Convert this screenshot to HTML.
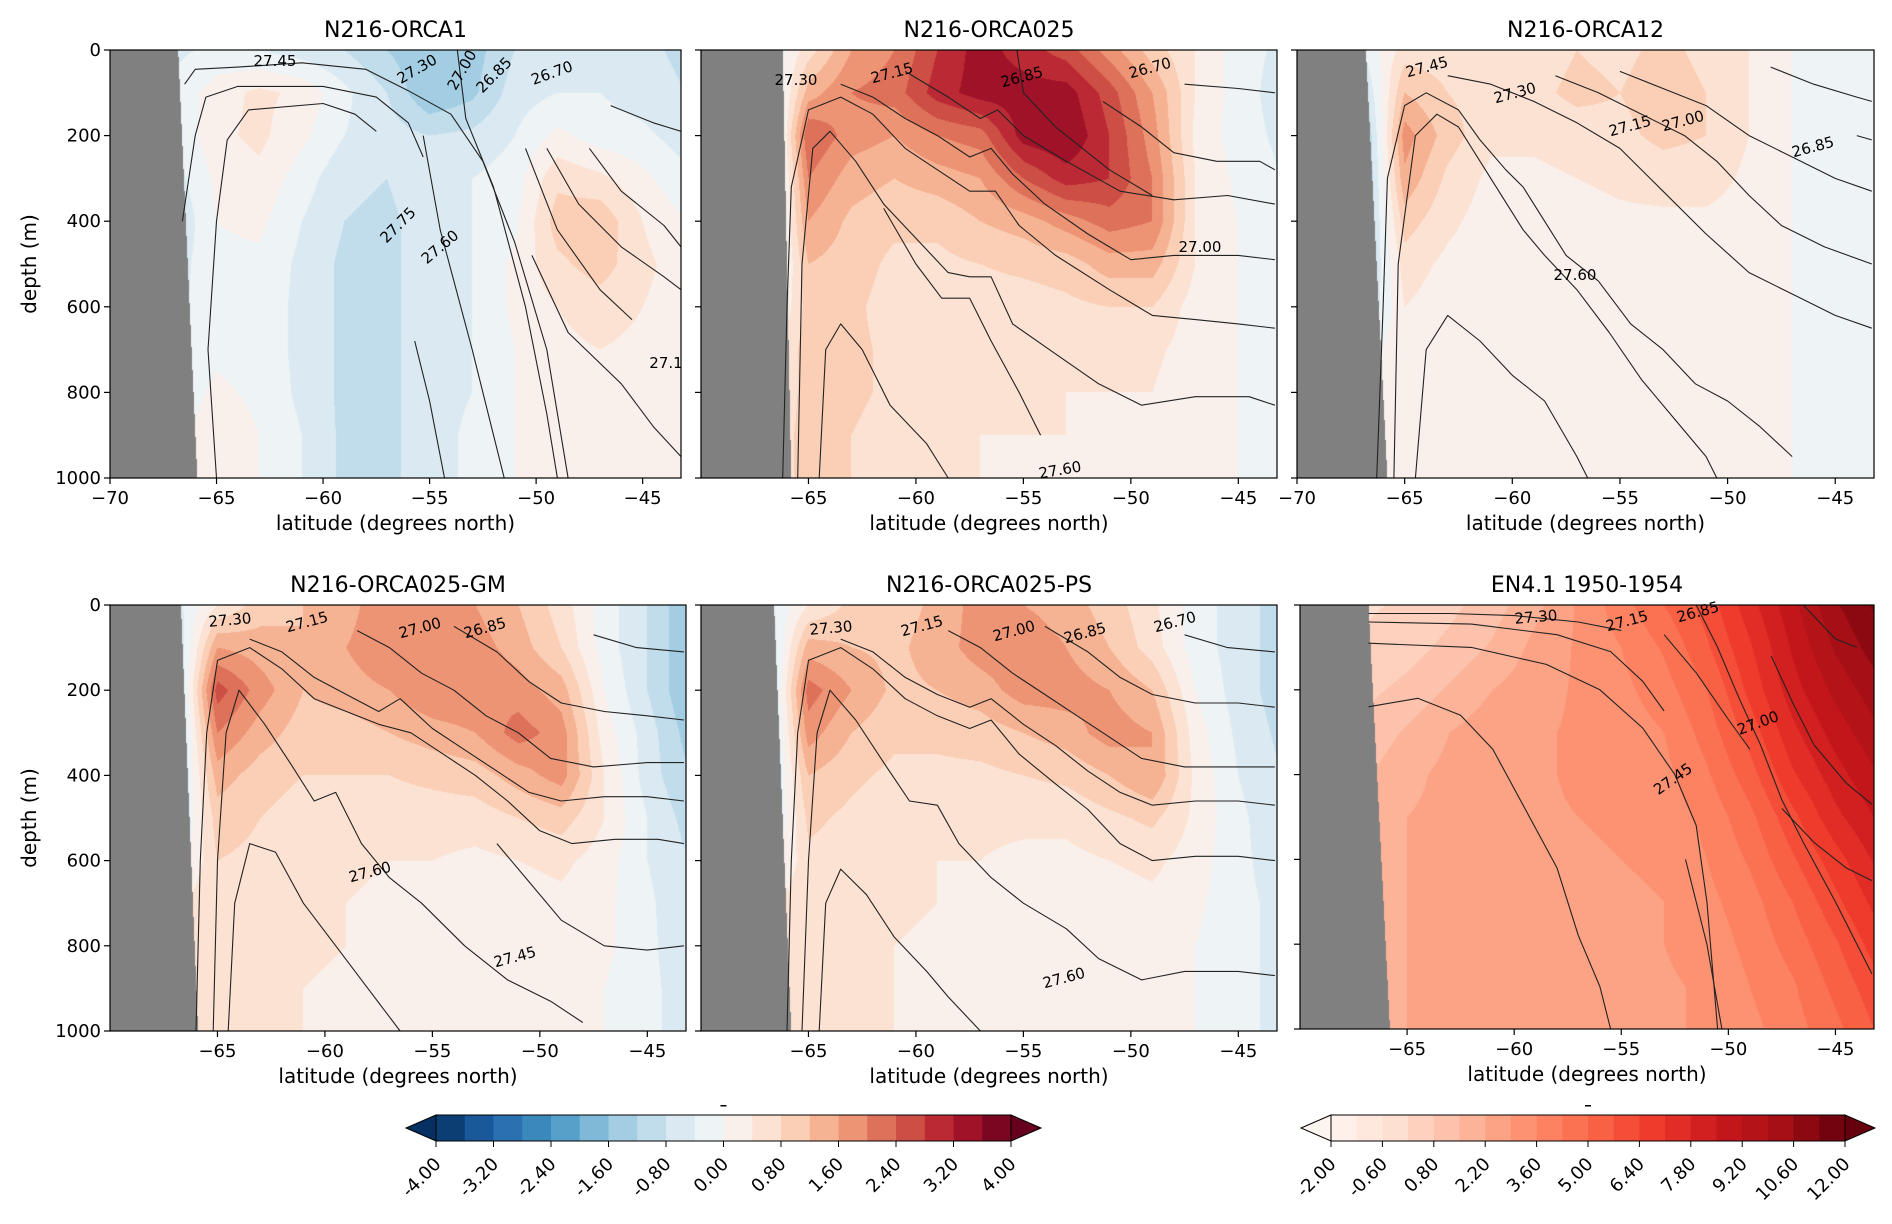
<!DOCTYPE html>
<html><head><meta charset="utf-8">
<style>
html,body{margin:0;padding:0;background:#fff;}
#root{position:relative;width:1892px;height:1224px;overflow:hidden;font-family:"DejaVu Sans","Liberation Sans",sans-serif;}
canvas{position:absolute;}
svg{position:absolute;left:0;top:0;}
</style></head>
<body>
<div id="root">
<canvas id="c1"></canvas>
<canvas id="c2"></canvas>
<canvas id="c3"></canvas>
<canvas id="c4"></canvas>
<canvas id="c5"></canvas>
<canvas id="c6"></canvas>
<svg id="ov" width="1892" height="1224"></svg>
</div>
<script>
// ---- data grids: rows = depth 0..1000 step 100, cols = latitude -67..-43 step 2
const gridLats=[-67,-65,-63,-61,-59,-57,-55,-53,-51,-49,-47,-45,-43];
const gridDepths=[0,100,200,300,400,500,600,700,800,900,1000];
const p1Values=[
[-0.5,-0.3,-0.4,-0.6,-0.8,-1.2,-1.6,-1.4,-0.8,-0.6,-0.6,-0.7,-0.9],
[-0.3,0.2,0.5,0.3,-0.3,-0.8,-1.6,-1.3,-0.6,-0.4,-0.4,-0.6,-0.8],
[-0.4,0.3,0.5,0.1,-0.4,-0.6,-0.8,-0.7,-0.4,0.1,-0.2,-0.3,-0.6],
[-0.6,0.1,0.3,-0.2,-0.7,-0.8,-0.5,-0.4,-0.2,0.7,0.5,0.1,-0.3],
[-0.8,0.0,0.1,-0.4,-0.8,-0.9,-0.6,-0.4,-0.1,1.0,1.1,0.4,0.0],
[-0.6,-0.1,-0.1,-0.5,-0.9,-0.9,-0.6,-0.4,0.1,0.7,1.0,0.5,0.2],
[-0.5,-0.2,-0.2,-0.5,-0.9,-0.9,-0.6,-0.4,0.1,0.4,0.6,0.4,0.2],
[-0.4,-0.1,-0.2,-0.5,-0.9,-0.9,-0.6,-0.4,0.0,0.3,0.4,0.3,0.2],
[-0.3,0.1,-0.1,-0.5,-0.9,-0.9,-0.6,-0.4,0.0,0.2,0.3,0.2,0.1],
[-0.2,0.3,0.0,-0.4,-0.9,-0.9,-0.6,-0.3,0.0,0.2,0.2,0.1,0.1],
[-0.2,0.3,0.0,-0.4,-0.9,-0.9,-0.6,-0.3,0.0,0.1,0.1,0.1,0.1]];
const p2Values=[
[-0.5,0.6,1.6,2.0,2.8,3.4,3.0,2.6,1.8,1.0,0.4,-0.2,-0.5],
[-1.0,1.4,2.0,2.2,3.0,3.4,3.4,3.4,2.6,1.6,0.4,-0.2,-0.6],
[-1.5,2.4,1.8,1.6,2.0,2.2,3.4,3.6,2.8,1.8,0.3,-0.2,-0.5],
[-1.5,2.0,1.4,1.2,1.4,1.6,2.4,3.0,2.8,2.0,0.4,-0.1,-0.4],
[-1.2,1.6,1.1,0.9,0.9,1.2,1.4,1.8,2.2,2.0,0.4,0.0,-0.3],
[-1.0,1.2,1.0,0.7,0.7,0.8,0.9,1.0,1.4,1.4,0.4,0.0,-0.2],
[-0.5,1.0,0.9,0.6,0.6,0.6,0.6,0.7,0.8,0.8,0.2,0.0,-0.2],
[0.2,1.0,0.9,0.7,0.6,0.5,0.5,0.5,0.6,0.5,0.2,0.0,-0.2],
[0.5,0.9,0.9,0.7,0.6,0.4,0.4,0.4,0.4,0.4,0.1,0.0,-0.2],
[0.6,0.9,0.8,0.6,0.5,0.4,0.4,0.4,0.3,0.3,0.1,0.0,-0.2],
[0.6,0.9,0.8,0.6,0.5,0.4,0.3,0.3,0.3,0.3,0.1,0.0,-0.2]];
const p3Values=[
[-0.4,0.6,0.6,0.5,0.6,0.8,0.7,0.9,0.7,0.4,0.0,-0.3,-0.4],
[-1.0,1.2,0.8,0.6,0.7,0.9,0.8,1.0,0.8,0.4,0.0,-0.3,-0.4],
[-1.6,1.8,1.0,0.5,0.5,0.6,0.7,0.9,0.8,0.4,0.0,-0.3,-0.4],
[-1.6,1.5,0.7,0.3,0.3,0.4,0.5,0.6,0.6,0.3,0.0,-0.2,-0.3],
[-1.4,1.0,0.5,0.2,0.2,0.2,0.3,0.3,0.3,0.2,0.0,-0.1,-0.2],
[-1.2,0.6,0.3,0.2,0.1,0.1,0.1,0.2,0.2,0.1,0.0,-0.1,-0.2],
[-1.0,0.4,0.2,0.2,0.1,0.1,0.1,0.1,0.1,0.1,0.0,-0.1,-0.1],
[-0.4,0.4,0.2,0.2,0.1,0.1,0.1,0.1,0.1,0.1,0.0,-0.1,-0.1],
[0.2,0.4,0.2,0.2,0.1,0.1,0.1,0.1,0.1,0.1,0.0,-0.1,-0.1],
[0.3,0.4,0.2,0.2,0.1,0.1,0.1,0.1,0.1,0.1,0.0,-0.1,-0.1],
[0.3,0.4,0.2,0.2,0.1,0.1,0.1,0.1,0.1,0.1,0.0,-0.1,-0.1]];
const p4Values=[
[-0.6,0.4,1.0,1.2,1.4,2.0,1.8,1.6,1.2,0.6,-0.2,-0.8,-1.6],
[-1.0,1.6,1.4,1.2,1.6,2.0,2.0,1.8,1.4,0.8,-0.2,-0.8,-1.6],
[-1.2,2.6,1.8,1.2,1.4,1.6,2.0,2.0,1.8,1.4,0.0,-0.8,-1.6],
[-1.2,2.0,1.4,1.0,1.0,1.2,1.4,1.6,2.2,1.8,0.2,-0.6,-1.4],
[-1.0,1.4,1.0,0.8,0.8,0.8,0.9,1.0,1.4,1.8,0.4,-0.6,-1.2],
[-0.8,1.0,0.8,0.6,0.6,0.6,0.6,0.6,0.8,1.0,0.4,-0.4,-1.0],
[-0.4,0.8,0.7,0.6,0.5,0.4,0.4,0.3,0.4,0.5,0.2,-0.4,-0.8],
[0.3,0.8,0.7,0.5,0.4,0.3,0.3,0.2,0.2,0.3,0.1,-0.3,-0.8],
[0.5,0.8,0.6,0.5,0.4,0.3,0.2,0.1,0.1,0.2,0.1,-0.3,-0.7],
[0.5,0.7,0.6,0.4,0.3,0.2,0.2,0.1,0.1,0.1,0.0,-0.3,-0.6],
[0.5,0.7,0.6,0.4,0.3,0.2,0.2,0.1,0.1,0.1,0.0,-0.3,-0.6]];
const p5Values=[
[-0.6,0.4,0.9,1.0,1.3,1.8,1.6,1.4,1.0,0.5,-0.2,-0.6,-1.0],
[-1.0,1.4,1.2,1.1,1.4,1.8,1.9,1.6,1.2,0.6,-0.2,-0.6,-1.0],
[-1.2,2.2,1.6,1.1,1.2,1.4,1.8,1.8,1.6,1.2,0.0,-0.6,-1.0],
[-1.2,1.8,1.2,0.9,0.9,1.0,1.2,1.4,1.8,1.6,0.2,-0.5,-0.9],
[-1.0,1.2,0.9,0.7,0.7,0.7,0.8,0.9,1.2,1.6,0.3,-0.4,-0.8],
[-0.8,0.9,0.7,0.5,0.5,0.5,0.5,0.5,0.7,0.9,0.3,-0.3,-0.7],
[-0.4,0.7,0.6,0.5,0.4,0.4,0.3,0.3,0.4,0.5,0.2,-0.3,-0.6],
[0.3,0.7,0.6,0.5,0.4,0.3,0.2,0.2,0.2,0.3,0.1,-0.3,-0.5],
[0.5,0.7,0.6,0.4,0.3,0.2,0.2,0.1,0.1,0.2,0.0,-0.3,-0.5],
[0.5,0.7,0.5,0.4,0.3,0.2,0.1,0.1,0.1,0.1,0.0,-0.3,-0.5],
[0.5,0.7,0.5,0.4,0.3,0.2,0.1,0.1,0.1,0.1,0.0,-0.3,-0.5]];
const p6Values=[
[0.0,0.2,0.6,1.2,2.0,3.0,4.0,5.0,6.0,7.5,9.0,10.5,11.5],
[0.2,0.5,1.0,1.6,2.4,3.0,3.6,4.4,5.6,7.0,8.6,10.0,11.0],
[0.6,1.0,1.6,2.2,2.6,3.0,3.4,4.0,5.0,6.6,8.2,9.4,10.4],
[1.0,1.6,2.2,2.6,2.8,3.0,3.2,3.6,4.6,6.0,7.6,8.8,9.8],
[1.4,2.0,2.4,2.6,2.8,3.0,3.1,3.4,4.2,5.4,7.0,8.2,9.2],
[1.8,2.2,2.4,2.6,2.8,2.9,3.0,3.2,3.8,4.8,6.2,7.6,8.6],
[2.0,2.2,2.4,2.6,2.7,2.8,2.9,3.0,3.6,4.4,5.6,6.8,8.0],
[2.0,2.2,2.4,2.6,2.7,2.8,2.8,2.9,3.4,4.0,5.0,6.2,7.4],
[2.0,2.2,2.4,2.5,2.6,2.7,2.8,2.9,3.2,3.8,4.6,5.6,6.8],
[2.0,2.2,2.3,2.4,2.5,2.6,2.7,2.8,3.0,3.6,4.2,5.2,6.2],
[2.0,2.2,2.3,2.4,2.5,2.6,2.7,2.8,3.0,3.4,4.0,4.8,5.8]];
// contour lines as [lat, depth] points
const p1Lines=[
[[-66.6,400],[-66,200],[-65.5,110],[-64,85],[-60,85],[-57.5,110],[-56,170],[-55.3,250]],
[[-65,1000],[-65.4,700],[-65,400],[-64.5,210],[-63.5,140],[-60,125],[-58.5,150],[-57.5,190]],
[[-66.5,80],[-66,45],[-64,40],[-61,30],[-58,45],[-56,95],[-54,150],[-52.5,260],[-51,450],[-49.5,700],[-48.5,1000]],
[[-53.7,0],[-53.3,160],[-52,320],[-50.5,600],[-49.5,850],[-49,1000]],
[[-55.3,200],[-54.5,420],[-53,700],[-51.5,1000]],
[[-55.7,680],[-55,820],[-54.3,1000]],
[[-49.5,230],[-48,360],[-46,460],[-44,530],[-43.2,560]],
[[-47.5,230],[-46,330],[-44,410],[-43.2,460]],
[[-50.5,230],[-49,420],[-47,560],[-45.5,630]],
[[-50.2,480],[-48.5,660],[-46,780],[-44.5,880],[-43.2,950]],
[[-46.5,130],[-44.5,170],[-43.2,190]]];
const p2Lines=[
[[-66.2,1000],[-66,600],[-65.8,320],[-65,140],[-63.5,110],[-62,150],[-60.5,230],[-59,280],[-57.5,330],[-56.3,330],[-55.2,410],[-53.5,480],[-51,560],[-49,620],[-47,630],[-45,640],[-43.3,650]],
[[-65.5,1000],[-65.3,500],[-64.8,230],[-64,190],[-62.8,260],[-61.5,360],[-60,440],[-58.5,520],[-57.5,530],[-56.5,530],[-55.5,640],[-53.5,710],[-51.5,780],[-49.5,830],[-47,810],[-44.5,810],[-43.3,830]],
[[-64.5,1000],[-64.2,700],[-63.5,640],[-62.5,700],[-61.2,830],[-59.5,920],[-58.5,1000]],
[[-61.5,370],[-60,500],[-58.8,580],[-57.5,580],[-56.5,680],[-55.2,800],[-54.2,900]],
[[-63.5,80],[-62,110],[-60.5,160],[-59,200],[-57.5,250],[-56.5,230],[-55.5,290],[-54,360],[-52,430],[-50,490],[-48,480],[-45,480],[-43.3,490]],
[[-60.5,50],[-58.5,110],[-57,160],[-56.2,140],[-55,200],[-53,260],[-50.5,330],[-48,350],[-45.5,340],[-43.3,360]],
[[-55.3,0],[-55,100],[-53.5,180],[-51,280],[-49,340]],
[[-51.3,120],[-49.5,180],[-48,240],[-46,260],[-44,260],[-43.3,280]],
[[-47.5,80],[-45,90],[-43.3,100]]];
const p3Lines=[
[[-66.3,1000],[-66,600],[-65.8,300],[-65,130],[-64,100],[-62.5,140],[-61.5,210],[-60.3,280],[-59.5,320],[-58.5,400],[-57.5,480],[-56,540],[-54.5,640],[-53,700],[-51.5,780],[-50,820],[-48.5,880],[-47,950]],
[[-65.5,1000],[-65.3,500],[-64.5,200],[-63.5,150],[-62.5,180],[-61,300],[-59.5,420],[-58.5,480],[-57,560],[-55.5,660],[-54,770],[-52.5,860],[-51,950],[-50.5,1000]],
[[-64.5,1000],[-64,700],[-63,620],[-61.5,680],[-60,760],[-58.5,820],[-57,950],[-56.5,1000]],
[[-63,60],[-61,80],[-59,120],[-57,170],[-55,230],[-53,330],[-51,430],[-49,520],[-47,570],[-45,620],[-43.3,650]],
[[-58,60],[-56,100],[-54,150],[-52,200],[-50.5,260],[-49,340],[-47.5,410],[-45.5,460],[-43.3,500]],
[[-55,50],[-53,90],[-51,130],[-49,200],[-47,250],[-45,300],[-43.3,330]],
[[-48,40],[-46,80],[-44,110],[-43.3,120]],
[[-44,200],[-43.3,210]]];
const p4Lines=[
[[-66,1000],[-65.8,600],[-65.5,300],[-65,130],[-63.5,100],[-62,150],[-60.5,220],[-59,250],[-57.5,280],[-56,300],[-54.5,350],[-53,400],[-51.5,460],[-50,530],[-48.5,560],[-46.5,550],[-44.5,550],[-43.3,560]],
[[-65.2,1000],[-65,600],[-64.6,300],[-64,200],[-62.8,280],[-61.5,380],[-60.5,460],[-59.5,440],[-58.3,560],[-57,640],[-55.5,700],[-53.5,800],[-51.5,880],[-49.5,930],[-48,980]],
[[-64.5,1000],[-64.2,700],[-63.5,560],[-62.3,580],[-61,700],[-59.5,800],[-58,900],[-56.5,1000]],
[[-63.5,80],[-62,110],[-60.5,170],[-59,210],[-57.5,250],[-56.5,220],[-55,290],[-53.5,340],[-52,390],[-50.5,440],[-49,460],[-47,450],[-45,450],[-43.3,460]],
[[-58.5,60],[-57,100],[-55.5,160],[-54,200],[-52.5,260],[-51,300],[-49.5,360],[-47.5,380],[-45,370],[-43.3,370]],
[[-54,50],[-52,110],[-50.5,180],[-49,230],[-47,250],[-45,260],[-43.3,270]],
[[-47.5,70],[-45.5,100],[-43.3,110]],
[[-52,560],[-50.5,650],[-49,740],[-47,800],[-45,810],[-43.3,800]]];
const p5Lines=[
[[-66,1000],[-65.8,600],[-65.5,300],[-65,130],[-63.5,100],[-62,150],[-60.5,220],[-59,260],[-57.5,290],[-56.5,270],[-55.2,350],[-53.5,420],[-52,480],[-50.5,560],[-49,600],[-47,590],[-45,590],[-43.3,600]],
[[-65.3,1000],[-65,600],[-64.6,300],[-64,200],[-62.8,270],[-61.5,370],[-60.3,460],[-59,470],[-58,560],[-56.5,640],[-55,700],[-53,760],[-51.5,830],[-49.5,880],[-47.5,860],[-45,860],[-43.3,870]],
[[-64.5,1000],[-64.2,700],[-63.5,620],[-62.3,680],[-61,780],[-59.5,860],[-58.5,920],[-57,1000]],
[[-63.5,80],[-62,110],[-60.5,170],[-59,210],[-57.5,240],[-56.5,220],[-55,280],[-53.5,330],[-52,390],[-50.5,440],[-49,470],[-47,460],[-45,460],[-43.3,470]],
[[-58.5,60],[-57,100],[-55.5,160],[-54,210],[-52.5,260],[-51,310],[-49.5,360],[-47.5,380],[-45,380],[-43.3,380]],
[[-54,50],[-52,110],[-50.5,170],[-49,210],[-47,230],[-45,230],[-43.3,240]],
[[-47.5,70],[-45.5,100],[-43.3,110]]];
const p6Lines=[
[[-66.8,20],[-63,20],[-60,25],[-57,40],[-55,60]],
[[-66.8,40],[-62,45],[-58,70],[-55.5,110],[-54,180],[-53,250]],
[[-66.8,90],[-62,100],[-58.5,140],[-56,200],[-54,290],[-52.5,400],[-51.5,520],[-51,700],[-50.5,1000]],
[[-66.8,240],[-64.5,220],[-62.5,260],[-61,340],[-59.5,480],[-58,620],[-57,780],[-56,900],[-55.5,1000]],
[[-53,70],[-51.5,160],[-50,270],[-49,340]],
[[-51.5,0],[-50.5,100],[-49.5,220],[-48.5,330],[-47.5,460],[-46.5,560],[-45,700],[-44,800],[-43.3,870]],
[[-52,600],[-51,800],[-50.3,1000]],
[[-46.5,0],[-45,80],[-44,100]],
[[-48,120],[-47,230],[-46,330],[-44.5,420],[-43.3,470]],
[[-47.5,480],[-46,560],[-44.5,620],[-43.3,650]]];
// colourbar tick labels
const cb1Ticks=["-4.00","-3.20","-2.40","-1.60","-0.80","0.00","0.80","1.60","2.40","3.20","4.00"];
const cb2Ticks=["-2.00","-0.60","0.80","2.20","3.60","5.00","6.40","7.80","9.20","10.60","12.00"];
const xTickValues=[-70,-65,-60,-55,-50,-45];
const yTickValues=[0,200,400,600,800,1000];

const LAT0=-70, LAT1=-43.2;
const rdbu=[[5,48,97],[33,102,172],[67,147,195],[146,197,222],[209,229,240],[247,247,247],[253,219,199],[244,165,130],[214,96,77],[178,24,43],[103,0,31]];
const reds=[[255,245,240],[254,224,210],[252,187,161],[252,146,114],[251,106,74],[239,59,44],[203,24,29],[165,15,21],[103,0,13]];
function cmap(stops,t){t=Math.max(0,Math.min(1,t));const f=t*(stops.length-1);const i=Math.min(stops.length-2,Math.floor(f));const u=f-i;const a=stops[i],b=stops[i+1];return [a[0]+(b[0]-a[0])*u,a[1]+(b[1]-a[1])*u,a[2]+(b[2]-a[2])*u].map(Math.round);}
function sample(g,lat,d){
  let fi=(Math.max(-67,Math.min(-43,lat))+67)/2;let i=Math.min(11,Math.floor(fi));let u=fi-i;
  let fj=Math.max(0,Math.min(1000,d))/100;let j=Math.min(9,Math.floor(fj));let v=fj-j;
  return g[j][i]*(1-u)*(1-v)+g[j][i+1]*u*(1-v)+g[j+1][i]*(1-u)*v+g[j+1][i+1]*u*v;
}
const panels=[
 {id:'c1',key:'orca1',title:'N216-ORCA1',x0:110,x1:681,y0:50,y1:478,vals:p1Values,lines:p1Lines,cm:rdbu,vmin:-4,vmax:4,land:[-66.8,-65.9],ylab:true,xt:[-70,-65,-60,-55,-50,-45]},
 {id:'c2',key:'orca025',title:'N216-ORCA025',x0:701,x1:1277,y0:50,y1:478,vals:p2Values,lines:p2Lines,cm:rdbu,vmin:-4,vmax:4,land:[-66.2,-65.8],ylab:false,xt:[-65,-60,-55,-50,-45]},
 {id:'c3',key:'orca12',title:'N216-ORCA12',x0:1297,x1:1874,y0:50,y1:478,vals:p3Values,lines:p3Lines,cm:rdbu,vmin:-4,vmax:4,land:[-66.8,-65.8],ylab:false,xt:[-70,-65,-60,-55,-50,-45]},
 {id:'c4',key:'orca025-gm',title:'N216-ORCA025-GM',x0:110,x1:686,y0:605,y1:1031,vals:p4Values,lines:p4Lines,cm:rdbu,vmin:-4,vmax:4,land:[-66.7,-65.9],ylab:true,xt:[-65,-60,-55,-50,-45]},
 {id:'c5',key:'orca025-ps',title:'N216-ORCA025-PS',x0:701,x1:1277,y0:605,y1:1031,vals:p5Values,lines:p5Lines,cm:rdbu,vmin:-4,vmax:4,land:[-66.6,-65.8],ylab:false,xt:[-65,-60,-55,-50,-45]},
 {id:'c6',key:'en4',title:'EN4.1 1950-1954',x0:1300,x1:1874,y0:605,y1:1029,vals:p6Values,lines:p6Lines,cm:reds,vmin:-2,vmax:12,land:[-66.8,-65.8],ylab:false,xt:[-65,-60,-55,-50,-45]}
];
const NS='http://www.w3.org/2000/svg';
const ov=document.getElementById('ov');
function el(tag,attrs,parent){const e=document.createElementNS(NS,tag);for(const k in attrs)e.setAttribute(k,attrs[k]);(parent||ov).appendChild(e);return e;}
function txt(s,attrs,parent){const e=el('text',attrs,parent);e.textContent=s;return e;}
const NB=20;
panels.forEach(p=>{
  const W=p.x1-p.x0,H=p.y1-p.y0;
  const cv=document.getElementById(p.id);cv.width=W;cv.height=H;cv.style.left=p.x0+'px';cv.style.top=p.y0+'px';
  const ctx=cv.getContext('2d');const img=ctx.createImageData(W,H);
  const lut=[];for(let b=0;b<NB;b++)lut.push(cmap(p.cm,(b+0.5)/NB));
  for(let py=0;py<H;py++){const d=(py+0.5)/H*1000;const landLat=p.land[0]+(p.land[1]-p.land[0])*d/1000;
    for(let px=0;px<W;px++){const lat=LAT0+(px+0.5)/W*(LAT1-LAT0);let c;
      if(lat<landLat)c=[128,128,128];else{const v=sample(p.vals,lat,d);let b=Math.floor((v-p.vmin)/(p.vmax-p.vmin)*NB);b=Math.max(0,Math.min(NB-1,b));c=lut[b];}
      const o=(py*W+px)*4;img.data[o]=c[0];img.data[o+1]=c[1];img.data[o+2]=c[2];img.data[o+3]=255;}}
  ctx.putImageData(img,0,0);
  const xs=lat=>p.x0+(lat-LAT0)/(LAT1-LAT0)*W;
  const ys=d=>p.y0+d/1000*H;
  const g=el('g',{});
  
  
  p.lines.forEach((ln,k)=>{
    const path=el('polyline',{points:ln.map(q=>xs(q[0]).toFixed(1)+','+ys(q[1]).toFixed(1)).join(' '),fill:'none',stroke:'#222','stroke-width':1.1,'stroke-linejoin':'round'},g);
    
    
  });
  const fr=el('rect',{x:p.x0,y:p.y0,width:W,height:H,fill:'none',stroke:'#000','stroke-width':1.2},g);
  
  
  const t=txt(p.title,{x:(p.x0+p.x1)/2,y:p.y0-13,'text-anchor':'middle','font-size':22,fill:'#000'},g);
  
  
  p.xt.forEach(v=>{const x=xs(v);el('line',{x1:x,x2:x,y1:p.y1,y2:p.y1+6,stroke:'#000','stroke-width':1.2},g);
    const tl=txt(String(v).replace('-','\u2212'),{x:x,y:p.y1+26,'text-anchor':'middle','font-size':18},g);
    
    });
  const xl=txt('latitude (degrees north)',{x:(p.x0+p.x1)/2,y:p.y1+52,'text-anchor':'middle','font-size':20},g);
  
  
  yTickValues.forEach(v=>{const y=ys(v);el('line',{x1:p.x0-6,x2:p.x0,y1:y,y2:y,stroke:'#000','stroke-width':1.2},g);
    if(p.ylab){const yl=txt(String(v),{x:p.x0-9,y:y+6,'text-anchor':'end','font-size':18},g);
      
      }});
  if(p.ylab){const yt=txt('depth (m)',{x:0,y:0,'text-anchor':'middle','font-size':20,transform:`translate(36,${(p.y0+p.y1)/2}) rotate(-90)`},g);
    
    }
});
// contour labels
const labels=[
 [275,66,'27.45',0],[417,74,'27.30',-30],[462,75,'27.00',-60],[494,80,'26.85',-45],[552,78,'26.70',-20],[398,230,'27.75',-45],[440,252,'27.60',-40],[666,368,'27.1',0],
 [796,85,'27.30',0],[892,78,'27.15',-15],[1022,82,'26.85',-15],[1150,73,'26.70',-15],[1200,252,'27.00',0],[1060,475,'27.60',-10],
 [1427,72,'27.45',-15],[1515,98,'27.30',-15],[1630,131,'27.15',-15],[1683,126,'27.00',-15],[1813,152,'26.85',-15],[1575,280,'27.60',0],
 [230,625,'27.30',-5],[307,627,'27.15',-15],[420,633,'27.00',-15],[485,633,'26.85',-15],[370,877,'27.60',-15],[515,962,'27.45',-15],
 [831,633,'27.30',-5],[922,631,'27.15',-15],[1014,636,'27.00',-15],[1085,638,'26.85',-15],[1175,627,'26.70',-15],[1064,983,'27.60',-15],
 [1536,622,'27.30',-5],[1627,626,'27.15',-15],[1698,617,'26.85',-15],[1758,728,'27.00',-20],[1673,784,'27.45',-35]];
labels.forEach(l=>{const t=txt(l[2],{x:l[0],y:l[1],'text-anchor':'middle','font-size':15,transform:`rotate(${l[3]},${l[0]},${l[1]-5})`});
  
  });
// colourbars
function colorbar(key,x0,x1,y0,y1,stops,ticks,ext){
  const g=el('g',{});
  
  
  const w=(x1-x0)/NB;
  for(let b=0;b<NB;b++){const c=cmap(stops,(b+0.5)/NB);el('rect',{x:x0+b*w,y:y0,width:w+0.6,height:y1-y0,fill:`rgb(${c})`},g);}
  const cl=cmap(stops,0),cr=cmap(stops,1);
  el('polygon',{points:`${x0},${y0} ${x0-ext},${(y0+y1)/2} ${x0},${y1}`,fill:`rgb(${cl})`,stroke:'#000','stroke-width':1},g);
  el('polygon',{points:`${x1},${y0} ${x1+ext},${(y0+y1)/2} ${x1},${y1}`,fill:`rgb(${cr})`,stroke:'#000','stroke-width':1},g);
  el('rect',{x:x0,y:y0,width:x1-x0,height:y1-y0,fill:'none',stroke:'#000','stroke-width':1},g);
  ticks.forEach((s,i)=>{const x=x0+i*(x1-x0)/(ticks.length-1);el('line',{x1:x,x2:x,y1:y1,y2:y1+6,stroke:'#000'},g);
    const t=txt(s,{x:x+6,y:y1+24,'text-anchor':'end','font-size':18,transform:`rotate(-45,${x+6},${y1+24})`},g);
    
    });
  el('rect',{x:(x0+x1)/2-3,y:y0-10,width:6,height:1.5,fill:'#000'},g);
}
colorbar('anomaly',436,1011,1115,1141,rdbu,cb1Ticks,30);
colorbar('en4',1331,1845,1115,1141,reds,cb2Ticks,30);
</script>
</body></html>
